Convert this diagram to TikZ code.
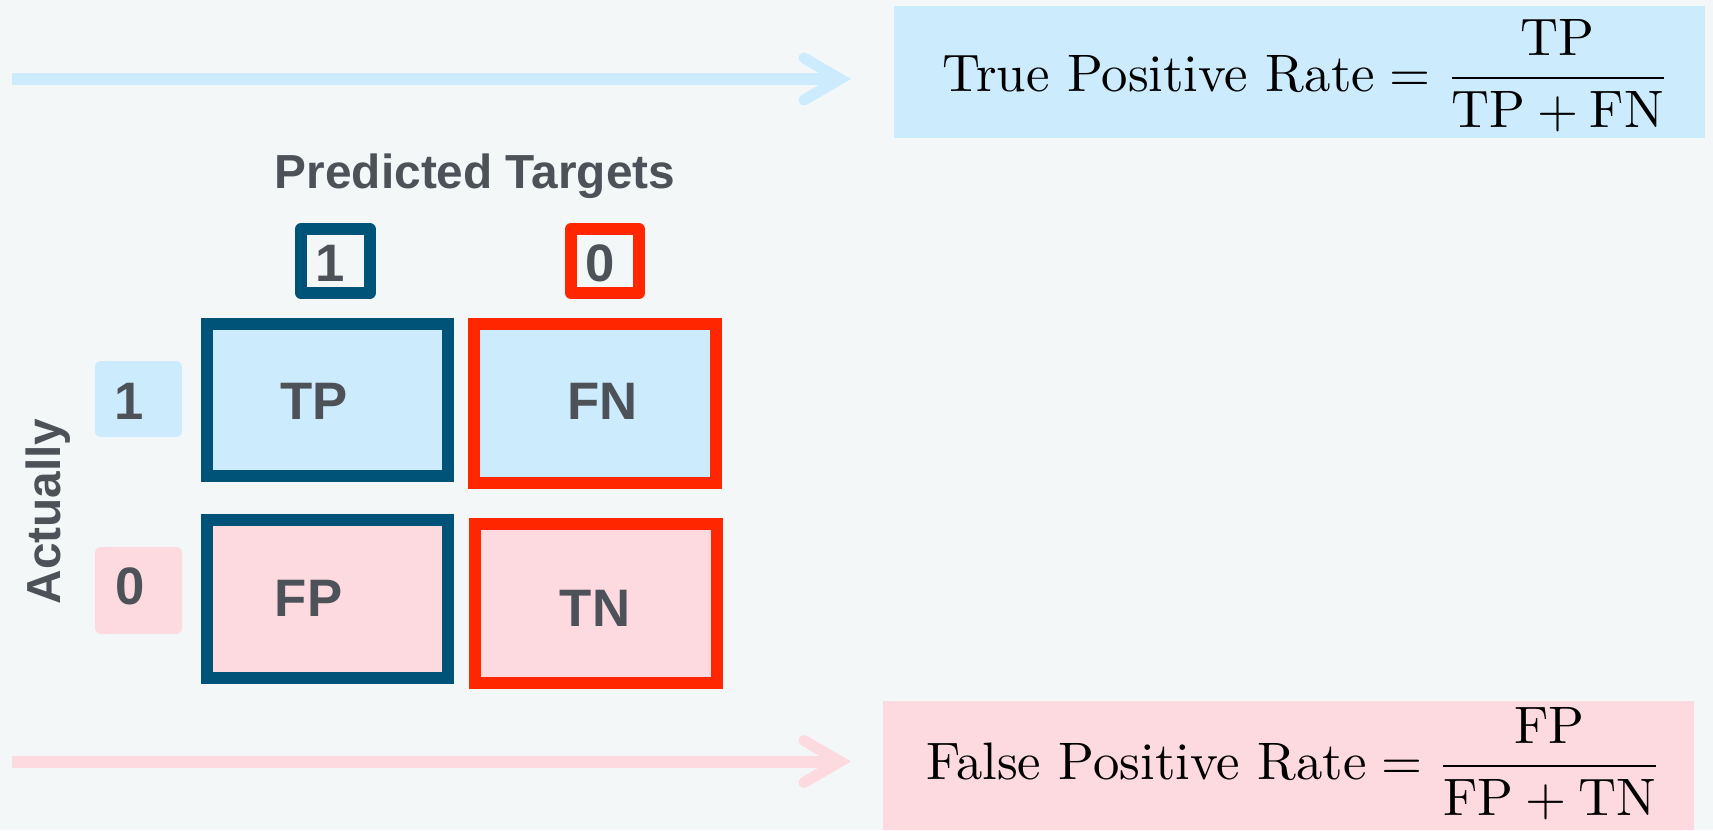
\documentclass[tikz,border=0pt]{standalone}
\usepackage{amsmath}
\usepackage{fontspec}
\newfontfamily\labelsans{Liberation Sans}
\usetikzlibrary{calc}

\definecolor{bgc}{HTML}{F3F7F8}
\definecolor{skyfill}{HTML}{CCECFD}
\definecolor{rosefill}{HTML}{FDDAE0}
\definecolor{navyedge}{HTML}{005378}
\definecolor{rededge}{HTML}{FF2600}
\definecolor{inkgray}{HTML}{4D5259}

\begin{document}
\begin{tikzpicture}[x=0.1mm,y=-0.1mm,
  cellbox/.style={draw, line width=1.2mm, inner sep=0pt, miter limit=4},
  headbox/.style={draw, line width=1.2mm, line join=round, fill=bgc, inner sep=0pt,
                  minimum width=6.85mm, minimum height=6.4mm},
  rowtag/.style={rounded corners=0.6mm, inner sep=0pt,
                 minimum width=8.7mm},
  cellfont/.style={font=\labelsans\bfseries\fontsize{15}{18}\selectfont,
                   text=inkgray, inner sep=0pt},
  titlefont/.style={font=\labelsans\bfseries\fontsize{13.6}{16}\selectfont,
                    text=inkgray, inner sep=0pt},
  ratebox/.style={inner sep=0pt, minimum width=81.1mm},
  ratetext/.style={inner sep=0pt, text=black, scale=1.5,
                   font=\fontsize{10}{12}\selectfont},
  shaft/.style={line width=1.2mm, line cap=butt},
  barb/.style={line width=1.1mm, line cap=round, line join=miter}
]
% canvas
\fill[bgc] (0,0) rectangle (1713,830);
\useasboundingbox (0,0) rectangle (1713,830);

% rate boxes
\node[ratebox, fill=skyfill, minimum height=13.2mm] (tprbox) at (1299.5,72) {};
\node[ratebox, fill=rosefill, minimum height=12.9mm] (fprbox) at (1288.5,765.5) {};
\node[ratetext, anchor=base west] (tprtext) at (941.5,91)
  {$\displaystyle \text{True Positive Rate} = \frac{\text{TP}}{\text{TP} + \text{FN}}$};
\node[ratetext, anchor=base west] (fprtext) at (925,779)
  {$\displaystyle \text{False Positive Rate} = \frac{\text{FP}}{\text{FP} + \text{TN}}$};

% arrows pointing at the rate boxes
\coordinate (tprtail) at (12,79);
\coordinate (tprhead) at (840,79);
\coordinate (fprtail) at (12,761.5);
\coordinate (fprhead) at (840,761.5);
\foreach \t/\h/\c in {tprtail/tprhead/skyfill, fprtail/fprhead/rosefill}{
  \draw[shaft, \c] (\t) -- (\h);
  \draw[barb, \c] ($(\h)+(-36,-21)$) -- (\h) -- ($(\h)+(-36,21)$);
}

% column headings
\node[titlefont, anchor=base] (predtitle) at (475,188.3) {Predicted Targets};
\node[headbox, draw=navyedge] (colone) at (335.4,261) {};
\node[headbox, draw=rededge, minimum width=6.8mm] (colzero) at (605,261) {};
\node[cellfont] (colonetxt) at (330.5,263) {1};
\node[cellfont] (colzerotxt) at (600,263.5) {0};

% row headings
\node[cellfont, rotate=90, anchor=base, font=\labelsans\bfseries\fontsize{13.6}{16}\selectfont]
  (actual) at (60.3,511.5) {Actually};
\node[rowtag, fill=skyfill, minimum height=7.6mm] (rowone) at (138.4,399) {};
\node[rowtag, fill=rosefill, minimum height=8.7mm] (rowzero) at (138.5,590.5) {};
\node[cellfont] (rowonetxt) at (129,401.5) {1};
\node[cellfont] (rowzerotxt) at (130.5,586.5) {0};

% confusion matrix cells
\node[cellbox, draw=navyedge, fill=skyfill, minimum width=24.05mm, minimum height=15.2mm]
  (tp) at (327.3,400) {};
\node[cellbox, draw=rededge, fill=skyfill, minimum width=24.2mm, minimum height=15.9mm]
  (fn) at (595,403.5) {};
\node[cellbox, draw=navyedge, fill=rosefill, minimum width=24.05mm, minimum height=15.8mm]
  (fp) at (327.3,599) {};
\node[cellbox, draw=rededge, fill=rosefill, minimum width=24.2mm, minimum height=15.9mm]
  (tn) at (596,603.5) {};
\node[cellfont] (tptxt) at (314,401.5) {TP};
\node[cellfont] (fntxt) at (602.5,401.5) {FN};
\node[cellfont] (fptxt) at (308.5,598) {FP};
\node[cellfont] (tntxt) at (595,608.5) {TN};
\end{tikzpicture}
\end{document}
